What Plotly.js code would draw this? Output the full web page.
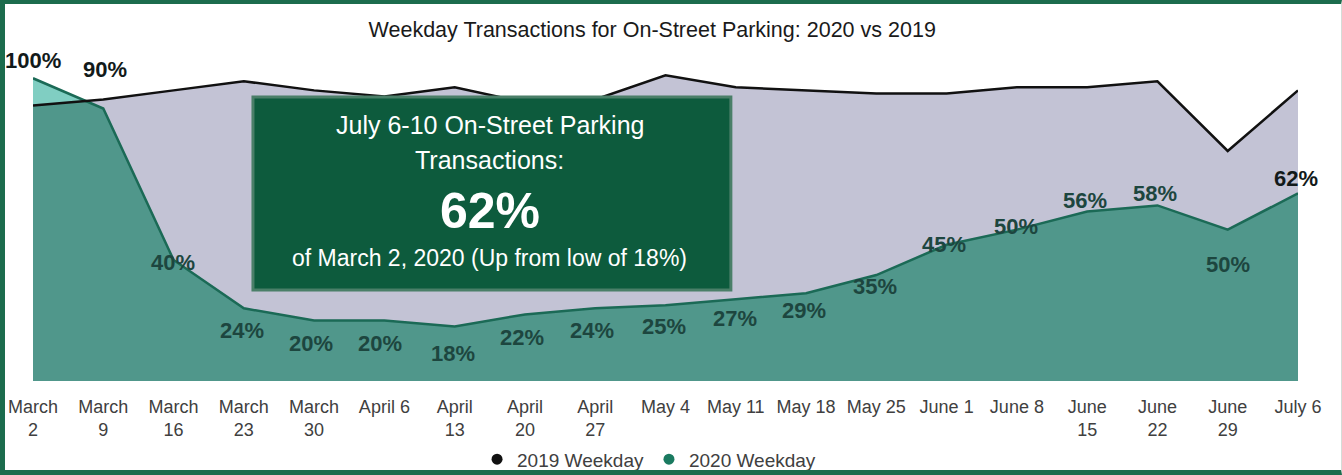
<!DOCTYPE html>
<html><head><meta charset="utf-8">
<script src="https://cdn.plot.ly/plotly-3.0.1.min.js"></script>
<style>
html,body{margin:0;padding:0;background:#fff;}
#wrap{position:relative;width:1342px;height:475px;overflow:hidden;}
#chart{width:1342px;height:475px;}
#frame{position:absolute;left:0;top:0;width:1342px;height:475px;box-sizing:border-box;border-left:5px solid #1c6c4d;border-top:4px solid #1c6c4d;border-bottom:5px solid #1c6c4d;border-right:1px solid #d5dcd8;pointer-events:none;}
</style></head><body>
<div id="wrap"><div id="chart"></div><div id="frame"></div></div>
<script>
// ---- data ----
const weekLabels = ["March<br>2","March<br>9","March<br>16","March<br>23","March<br>30","April 6","April<br>13","April<br>20","April<br>27","May 4","May 11","May 18","May 25","June 1","June 8","June<br>15","June<br>22","June<br>29","July 6"];
const weekday2019 = [91, 93, 96, 99, 96, 94, 97, 92, 93, 101, 97, 96, 95, 95, 97, 97, 99, 76, 96];
const weekday2020 = [100, 90, 40, 24, 20, 20, 18, 22, 24, 25, 27, 29, 35, 45, 50, 56, 58, 50, 62];
const seriesNames = ["2019 Weekday", "2020 Weekday"];
const boxLines = ["July 6-10 On-Street Parking", "Transactions:", "62%", "of March 2, 2020 (Up from low of 18%)"];
const chartTitle = "Weekday Transactions for On-Street Parking: 2020 vs 2019";

// ---- styles ----
const labelShift = [18, 39, -3, -22, -23, -23, -27, -23, -22, -21, -19, -17, -11, 0, 3, 11, 12, -35, 15];
const labelDx = [0, 2, -1, -2, -3, -4, -2, -3, -3, -2, -1, -2, -1, -3, -1, -2, -2, 0, -2];
const labelColor = i => (i === 0 || i === 1 || i === weekday2020.length - 1) ? "#121a1a" : "#1d463f";
const FONT = "Liberation Sans, Arial, Helvetica, sans-serif";
const LAV = "#c3c3d5", TEAL_DARK = "#50978b", TEAL_LIGHT = "#80cec2", LINE2020 = "#1b6a56";

const idx = weekLabels.map((_, i) => i);

// lower envelope of two series (for the overlap colour), computed at render time
function lowerEnvelope(a, b) {
  const xs = [], ys = [];
  for (let i = 0; i < a.length; i++) {
    xs.push(i); ys.push(Math.min(a[i], b[i]));
    if (i < a.length - 1) {
      const d0 = a[i] - b[i], d1 = a[i + 1] - b[i + 1];
      if (d0 * d1 < 0) {
        const t = d0 / (d0 - d1);
        xs.push(i + t); ys.push(a[i] + t * (a[i + 1] - a[i]));
      }
    }
  }
  return {xs, ys};
}
const env = lowerEnvelope(weekday2019, weekday2020);

const traces = [
  {x: idx, y: weekday2020, mode: "lines", fill: "tozeroy", fillcolor: TEAL_LIGHT, line: {width: 0}, showlegend: false, hoverinfo: "skip"},
  {x: idx, y: weekday2019, mode: "lines", fill: "tozeroy", fillcolor: LAV, line: {width: 0}, showlegend: false, hoverinfo: "skip"},
  {x: env.xs, y: env.ys, mode: "lines", fill: "tozeroy", fillcolor: TEAL_DARK, line: {width: 0}, showlegend: false, hoverinfo: "skip"},
  {x: idx, y: weekday2020, mode: "lines", line: {color: LINE2020, width: 2.5}, showlegend: false, name: seriesNames[1]},
  {x: idx, y: weekday2019, mode: "lines", line: {color: "#111111", width: 2.5}, showlegend: false, name: seriesNames[0]},
  {x: [null], y: [null], mode: "markers", marker: {color: "#111111", size: 11}, name: seriesNames[0], showlegend: true},
  {x: [null], y: [null], mode: "markers", marker: {color: "#1a7a60", size: 11}, name: seriesNames[1], showlegend: true}
];

const annotations = weekday2020.map((v, i) => ({
  x: i, y: v, xref: "x", yref: "y", text: v + "%", showarrow: false,
  yshift: labelShift[i], xshift: labelDx[i],
  font: {family: FONT, size: 22, color: labelColor(i), weight: "bold"}
}));

const boxX = 6.5;
const boxSpec = [
  {y: 84.6, size: 25, weight: "normal"},
  {y: 73.0, size: 25, weight: "normal"},
  {y: 56.2, size: 50, weight: "bold"},
  {y: 40.6, size: 23, weight: "normal"}
];
boxLines.forEach((t, k) => annotations.push({
  x: boxX, y: boxSpec[k].y, xref: "x", yref: "y", text: t, showarrow: false,
  font: {family: FONT, size: boxSpec[k].size, color: "#ffffff", weight: boxSpec[k].weight}
}));

const layout = {
  width: 1342, height: 475,
  margin: {l: 33, r: 44, t: 48, b: 94, pad: 0, autoexpand: false},
  paper_bgcolor: "#ffffff", plot_bgcolor: "#ffffff",
  title: {text: chartTitle, x: 0.486, xanchor: "center", xref: "container", y: 0.937, yref: "container", yanchor: "middle",
          font: {family: FONT, size: 21.5, color: "#1a1a1a"}},
  xaxis: {range: [0, 18], tickvals: idx, ticktext: weekLabels, showgrid: false, zeroline: false, showline: false,
          ticks: "", ticklabelstandoff: 13, tickfont: {family: FONT, size: 18, color: "#404040"}, fixedrange: true, automargin: false},
  yaxis: {range: [0, 110], visible: false, fixedrange: true},
  showlegend: true,
  legend: {orientation: "h", x: 0.487, xanchor: "center", yref: "container", y: 0.033, yanchor: "middle", itemwidth: 30,
           font: {family: FONT, size: 19, color: "#404040"}, bgcolor: "rgba(0,0,0,0)"},
  shapes: [
    {type: "rect", xref: "x", yref: "y", x0: 3.13, x1: 9.93, y0: 30.1, y1: 93.8, layer: "above",
     fillcolor: "#0d5b3d", line: {color: "#4a7f68", width: 3}}
  ],
  annotations: annotations
};

Plotly.newPlot("chart", traces, layout, {displayModeBar: false, staticPlot: true});
</script>
</body></html>
